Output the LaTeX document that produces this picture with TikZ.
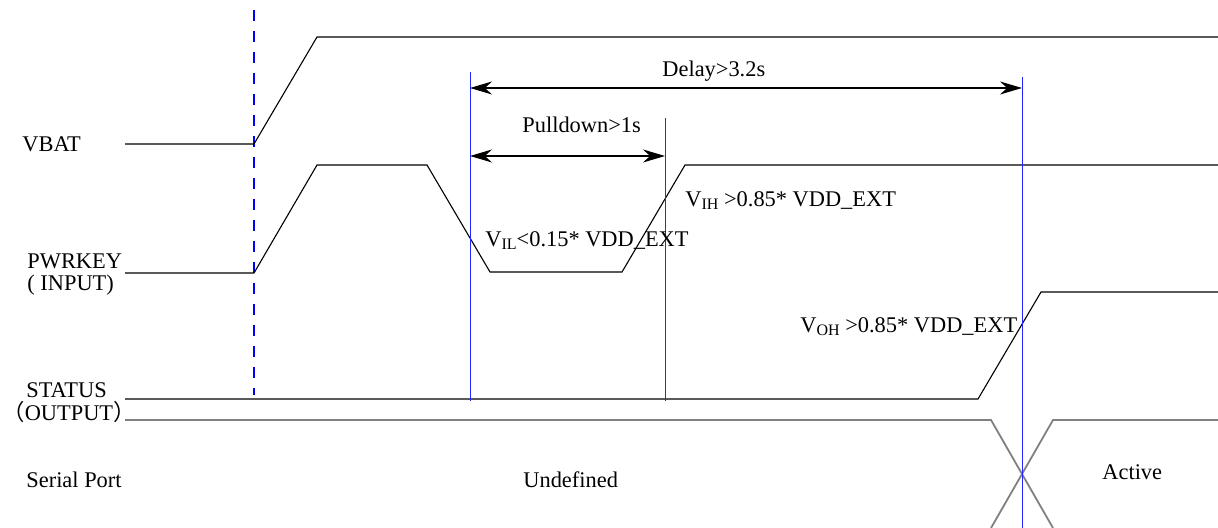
\documentclass[tikz,border=0pt]{standalone}
\usepackage{fontspec}
\setmainfont{Liberation Serif}
\newfontfamily\cjk{Noto Sans CJK SC}
\usepackage{tikz}
\usetikzlibrary{arrows.meta}

\tikzset{
  wave/.style={black, line width=0.55pt},
  bus/.style={black!50, line width=0.9pt},
  cursor/.style={blue!85!white, line width=0.5pt},
  powerup/.style={blue, line width=1.1pt, dash pattern=on 5.5pt off 5pt},
  span/.style={line width=0.55pt, {Stealth[length=11pt,width=6.5pt]}-{Stealth[length=11pt,width=6.5pt]}},
  lbl/.style={anchor=base west, inner sep=0pt, font=\fontsize{11.2}{13}\selectfont},
}
\newcommand{\lowtxt}[1]{\raisebox{-1.3pt}{\fontsize{8}{9}\selectfont #1}}

\begin{document}
\begin{tikzpicture}[x=0.5pt, y=-0.5pt]
        \useasboundingbox (0,0) rectangle (1218,528);

        % Power-on marker
        \draw[powerup] (254,10) -- (254,395);

        % VBAT
        \draw[wave] (125,144) -- (254,144) -- (317,37) -- (1218,37);

        % PWRKEY
        \draw[wave] (125,273) -- (254,273) -- (317,165) -- (427,165) -- (490,272)
                    -- (622,272) -- (685,165) -- (1218,165);

        % STATUS
        \draw[wave] (125,399) -- (978,399) -- (1041,292) -- (1218,292);

        % Serial port
        \draw[bus] (125,420) -- (991,420) -- (1053,528);
        \draw[bus] (1218,420) -- (1053,420) -- (991,528);

        % Timing cursors
        \draw[cursor] (470,72) -- (470,401);
        \draw[cursor] (665,118) -- (665,401);
        \draw[cursor] (1022,77) -- (1022,528);

        % Delays
        \coordinate (d0) at (470,88);
        \coordinate (d1) at (1022,88);
        \coordinate (p0) at (470,156);
        \coordinate (p1) at (665,156);
        \draw[span] (d0) -- (d1);
        \draw[span] (p0) -- (p1);
        \node[lbl] (delay) at (662,77) {Delay>3.2s};
        \node[lbl] (pull) at (522,133) {Pulldown>1s};

        % Levels
        \node[lbl] (vih) at (685,207) {V\lowtxt{IH} >0.85* VDD\_EXT};
        \node[lbl] (vil) at (485,247) {V\lowtxt{IL}<0.15* VDD\_EXT};
        \node[lbl] (voh) at (800,333) {V\lowtxt{OH} >0.85* VDD\_EXT};

        % Signal names
        \node[lbl] (vbat) at (22,152) {VBAT};
        \node[lbl] (pwrkey) at (27,269) {PWRKEY};
        \node[lbl] (input) at (27,291) {( INPUT)};
        \node[lbl] (status) at (26,397) {STATUS};
        \node[lbl] (output) at (2,420) {{\cjk （}OUTPUT{\cjk ）}};
        \node[lbl] (serial) at (26,487) {Serial Port};

        % Port states
        \node[lbl] (undef) at (523,487) {Undefined};
        \node[lbl] (active) at (1102,479) {Active};
    \end{tikzpicture}
\end{document}
